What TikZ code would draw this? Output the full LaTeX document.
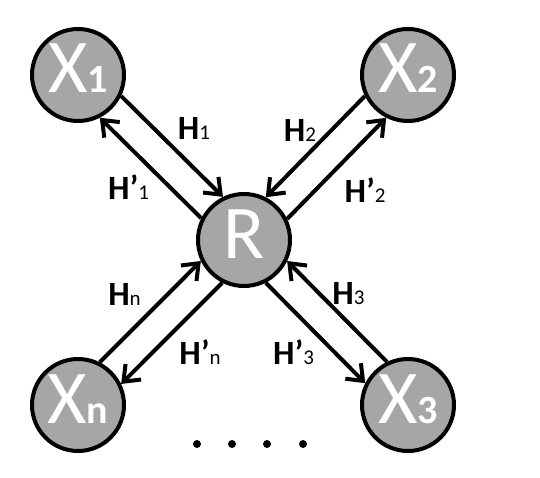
\documentclass[tikz,border=0pt]{standalone}
\usepackage{fontspec}
\setmainfont{Carlito}
\usetikzlibrary{arrows.meta}
\definecolor{nodegray}{HTML}{A6A6A6}
\newcommand{\bigsub}[1]{{\fontsize{40}{40}\selectfont\bfseries #1}}
\newcommand{\smsub}[1]{{\fontsize{21}{21}\selectfont\mdseries #1}}
\begin{document}
\begin{tikzpicture}[x=1pt,y=1pt,
  nd/.style={circle,draw=black,fill=nodegray,line width=4pt,minimum size=92pt,
    inner sep=0pt,text=white,font=\fontsize{76}{76}\selectfont,text height=48pt,text depth=12pt},
  arr/.style={line width=4pt,-{Straight Barb[length=14pt,width=22pt]}},
  lbl/.style={font=\fontsize{34}{34}\selectfont\bfseries,inner sep=0pt},
  dotnode/.style={circle,fill=black,inner sep=0pt,minimum size=8pt}]
\useasboundingbox (0,0) rectangle (540,-478);
\node[nd] (X1) at (78,-75) {X\bigsub{1}};
\node[nd] (X2) at (408,-75) {X\bigsub{2}};
\node[nd] (Xn) at (78,-405) {X\bigsub{n}};
\node[nd] (X3) at (408,-405) {X\bigsub{3}};
\node[nd] (R) at (244,-240) {R};
% X1 - R
\draw[arr] (X1.-26.8) -- (R.116.8);
\draw[arr] (R.153.2) -- (X1.-63.2);
% X2 - R
\draw[arr] (X2.206.8) -- (R.63.2);
\draw[arr] (R.26.8) -- (X2.243.2);
% Xn - R
\draw[arr] (Xn.63.2) -- (R.206.8);
\draw[arr] (R.243.2) -- (Xn.26.8);
% X3 - R
\draw[arr] (X3.116.8) -- (R.-26.8);
\draw[arr] (R.-63.2) -- (X3.153.2);
% labels
\node[lbl] (h1) at (194,-128) {H\smsub{1}};
\node[lbl] (h1p) at (128.5,-187) {H’\smsub{1}};
\node[lbl] (h2) at (300,-130) {H\smsub{2}};
\node[lbl] (h2p) at (365,-190) {H’\smsub{2}};
\node[lbl] (hn) at (124.5,-294) {H\smsub{n}};
\node[lbl] (hnp) at (200,-352) {H’\smsub{n}};
\node[lbl] (h3) at (348.5,-294) {H\smsub{3}};
\node[lbl] (h3p) at (293.5,-352) {H’\smsub{3}};
% dots
\node[dotnode] (d1) at (197,-444) {};
\node[dotnode] (d2) at (232,-444) {};
\node[dotnode] (d3) at (267,-444) {};
\node[dotnode] (d4) at (303,-444) {};
\end{tikzpicture}
\end{document}
